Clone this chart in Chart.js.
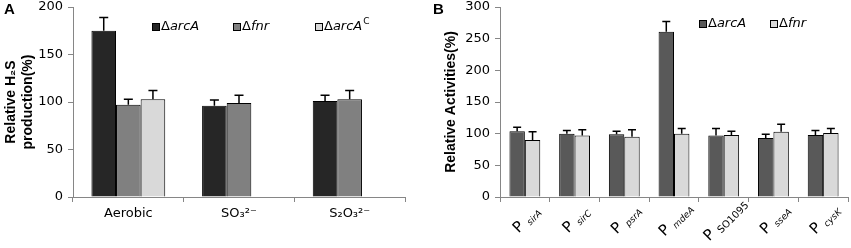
<!DOCTYPE html>
<html>
<head>
<meta charset="utf-8">
<script src="https://cdn.jsdelivr.net/npm/chart.js@4.4.0/dist/chart.umd.min.js"></script>
<style>
  body { margin: 0; background: #fff; width: 851px; height: 248px; overflow: hidden; position: relative; }
  canvas { position: absolute; top: 0; }
  #chartA { left: 0; }
  #chartB { left: 430px; }
  .panel { position: absolute; top: 0; font: bold 15px "Liberation Sans", Arial, sans-serif; }
</style>
</head>
<body>
<canvas id="chartA" width="420" height="248"></canvas>
<canvas id="chartB" width="421" height="248"></canvas>
<div class="panel" style="left:4px">A</div>
<div class="panel" style="left:433px">B</div>
<script>
// panel A: H2S production
const categoriesA = ['Aerobic', 'SO₃²⁻', 'S₂O₃²⁻'];
const seriesA = ['ΔarcA', 'Δfnr', 'ΔarcA^C'];
const arcA_A = [175, 96, 101];
const arcA_A_err = [189, 102, 107];
const fnr_A = [97, 99, 103];
const fnr_A_err = [103, 107, 112];
const arcAC_A = [103, null, null];
const arcAC_A_err = [112, null, null];
const ticksA = [0, 50, 100, 150, 200];

// panel B: promoter activities
const promoters = ['sirA', 'sirC', 'psrA', 'mdeA', 'SO1095', 'sseA', 'cysK'];
const seriesB = ['ΔarcA', 'Δfnr'];
const arcA_B = [104, 100, 99, 261, 97, 93, 98];
const arcA_B_err = [110, 105, 104, 277, 108, 99, 105];
const fnr_B = [90, 97, 95, 100, 98, 103, 101];
const fnr_B_err = [103, 106, 106, 108, 104, 115, 108];
const ticksB = [0, 50, 100, 150, 200, 250, 300];

const tickFont = { family: '"DejaVu Sans", Verdana, sans-serif', size: 13 };
const titleFont = { family: '"Liberation Sans", Arial, sans-serif', size: 14, weight: 'bold', lineHeight: 1.25 };
const axisGray = '#868686';

// upward error bars, drawn from the bar top to the value in errorTop
const errorBars = {
    id: 'errorBars',
    afterDatasetsDraw(chart, args, opts) {
        const ctx = chart.ctx;
        const y = chart.scales.y;
        ctx.save();
        ctx.strokeStyle = '#000';
        ctx.lineWidth = 1.5;
        chart.data.datasets.forEach((ds, di) => {
            const meta = chart.getDatasetMeta(di);
            meta.data.forEach((bar, i) => {
                const top = ds.errorTop[i];
                if (top == null || ds.data[i] == null) return;
                const yt = y.getPixelForValue(top);
                ctx.beginPath();
                ctx.moveTo(bar.x, bar.y);
                ctx.lineTo(bar.x, yt);
                ctx.moveTo(bar.x - opts.cap / 2, yt);
                ctx.lineTo(bar.x + opts.cap / 2, yt);
                ctx.stroke();
            });
        });
        ctx.restore();
    }
};

// legend inside the plot, Δ upright, gene name italic, optional ^superscript
const insideLegend = {
    id: 'insideLegend',
    afterDraw(chart, args, opts) {
        const ctx = chart.ctx;
        ctx.save();
        ctx.textBaseline = 'middle';
        chart.data.datasets.forEach((ds, i) => {
            let x = opts.x[i];
            const y = opts.y;
            ctx.fillStyle = ds.backgroundColor;
            ctx.fillRect(x, y - 4, 8, 8);
            ctx.strokeStyle = '#000';
            ctx.lineWidth = 1;
            ctx.strokeRect(x + 0.5, y - 3.5, 7, 7);
            x += 9;
            const parts = ds.label.split('^');
            const main = parts[0];
            ctx.fillStyle = '#000';
            ctx.font = '13px "DejaVu Sans"';
            ctx.fillText(main[0], x, y);
            x += ctx.measureText(main[0]).width;
            ctx.font = 'italic 13px "DejaVu Sans"';
            ctx.fillText(main.slice(1), x, y);
            x += ctx.measureText(main.slice(1)).width;
            if (parts[1]) {
                ctx.font = '9px "DejaVu Sans"';
                ctx.fillText(parts[1], x + 1, y - 5);
            }
        });
        ctx.restore();
    }
};

// rotated "P sub" labels for panel B
const promoterLabels = {
    id: 'promoterLabels',
    afterDraw(chart) {
        const ctx = chart.ctx;
        const xs = chart.scales.x;
        chart.data.labels.forEach((name, i) => {
            const italic = !/^SO\d/.test(name);
            const fBig = '15px "DejaVu Sans"';
            const fSub = italic ? 'italic 9px "DejaVu Sans"' : '10px "DejaVu Sans"';
            ctx.save();
            ctx.font = fBig;
            const wP = ctx.measureText('P ').width;
            ctx.font = fSub;
            const w = wP + ctx.measureText(name).width;
            ctx.translate(xs.getPixelForValue(i) + 1, 219);
            ctx.rotate(-Math.PI / 4);
            ctx.fillStyle = '#000';
            ctx.textBaseline = 'alphabetic';
            ctx.font = fBig;
            ctx.fillText('P', -w / 2, 5);
            ctx.font = fSub;
            ctx.fillText(name, -w / 2 + wP, 8);
            ctx.restore();
        });
    }
};

function yScale(ticks, width, title, titlePad) {
    return {
        min: ticks[0],
        max: ticks[ticks.length - 1],
        afterBuildTicks: (scale) => { scale.ticks = ticks.map(v => ({ value: v })); },
        afterFit: (scale) => { scale.width = width; scale.paddingTop = 7; scale.paddingBottom = 0; },
        ticks: { font: tickFont, color: '#000', padding: 5 },
        grid: { drawOnChartArea: false, tickLength: 5, color: axisGray },
        border: { color: axisGray },
        title: { display: true, text: title, font: titleFont, color: '#000', padding: { top: titlePad, bottom: 0 } }
    };
}

const chartA = new Chart(document.getElementById('chartA'), {
    type: 'bar',
    data: {
        labels: categoriesA,
        datasets: [
            { label: seriesA[0], data: arcA_A, errorTop: arcA_A_err, backgroundColor: '#262626' },
            { label: seriesA[1], data: fnr_A, errorTop: fnr_A_err, backgroundColor: '#808080' },
            { label: seriesA[2], data: arcAC_A, errorTop: arcAC_A_err, backgroundColor: '#d9d9d9' }
        ]
    },
    options: {
        responsive: false,
        animation: false,
        layout: { padding: { top: 0, right: 15, bottom: 0, left: 0 } },
        datasets: { bar: { borderColor: '#000', borderWidth: 1, categoryPercentage: 0.667, barPercentage: 1 } },
        scales: {
            x: {
                afterFit: (scale) => { scale.height = 51; },
                ticks: { font: tickFont, color: '#000', padding: 4, maxRotation: 0 },
                grid: { drawOnChartArea: false, tickLength: 5, color: axisGray },
                border: { color: axisGray }
            },
            y: yScale(ticksA, 73, ['Relative H₂S', 'production(%)'], 2)
        },
        plugins: {
            legend: { display: false },
            tooltip: { enabled: false },
            errorBars: { cap: 9 },
            insideLegend: { x: [152, 233, 315], y: 27 }
        }
    },
    plugins: [errorBars, insideLegend]
});

const chartB = new Chart(document.getElementById('chartB'), {
    type: 'bar',
    data: {
        labels: promoters,
        datasets: [
            { label: seriesB[0], data: arcA_B, errorTop: arcA_B_err, backgroundColor: '#595959' },
            { label: seriesB[1], data: fnr_B, errorTop: fnr_B_err, backgroundColor: '#d9d9d9' }
        ]
    },
    options: {
        responsive: false,
        animation: false,
        layout: { padding: { top: 0, right: 3, bottom: 0, left: 0 } },
        datasets: { bar: { borderColor: '#000', borderWidth: 1, categoryPercentage: 0.62, barPercentage: 1 } },
        scales: {
            x: {
                afterFit: (scale) => { scale.height = 51; },
                ticks: { display: false },
                grid: { drawOnChartArea: false, tickLength: 5, color: axisGray },
                border: { color: axisGray }
            },
            y: yScale(ticksB, 70, 'Relative Activities(%)', 12)
        },
        plugins: {
            legend: { display: false },
            tooltip: { enabled: false },
            errorBars: { cap: 8 },
            insideLegend: { x: [269, 340], y: 24 }
        }
    },
    plugins: [errorBars, insideLegend, promoterLabels]
});
</script>
</body>
</html>
